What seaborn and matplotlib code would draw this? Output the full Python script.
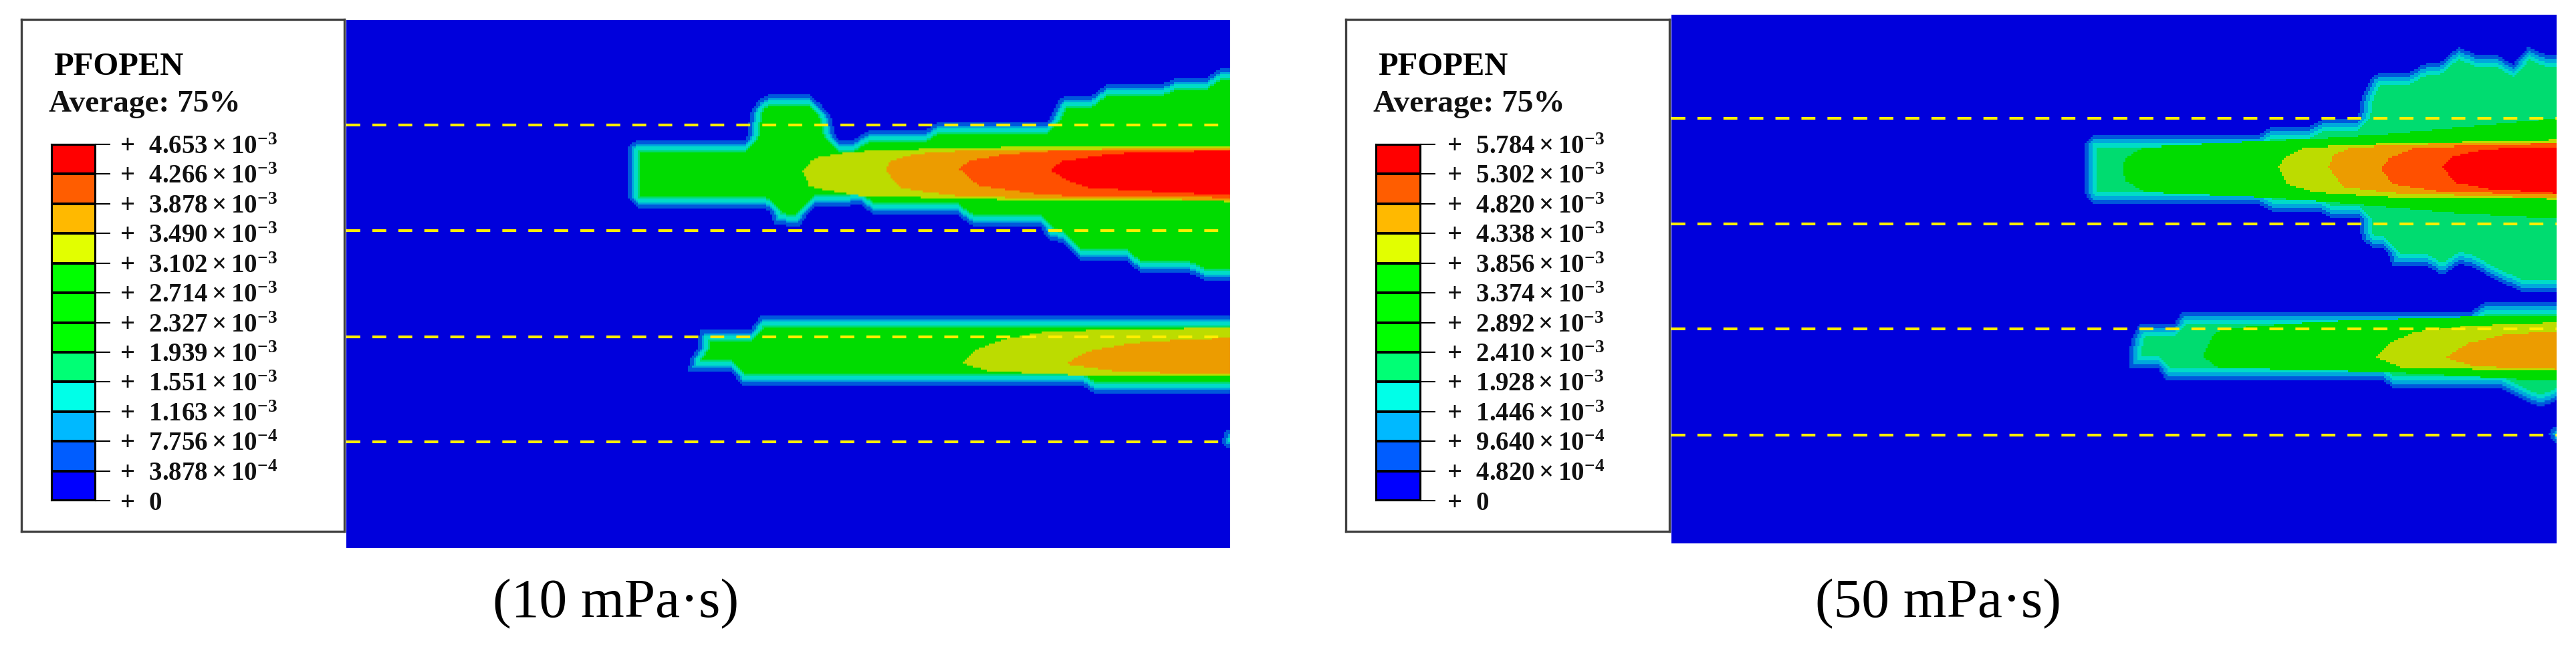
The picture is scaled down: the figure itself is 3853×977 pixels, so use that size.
import numpy as np
import matplotlib
matplotlib.use('Agg')
import matplotlib.pyplot as plt
from matplotlib.colors import ListedColormap
from matplotlib.path import Path
import seaborn as sns

W, H = 3853, 977
CELL = 3

# contour colours, index = band number (0 = below first legend level)
legend_colors = ['#0000ff', '#005dff', '#00b9ff', '#00ffe8', '#00ff75', '#00ff00',
                 '#00ff00', '#00ff00', '#e2ff00', '#ffb900', '#ff5d00', '#ff0000']
field_colors = ['#0000dc', '#0058dc', '#00a8dc', '#00dcc8', '#00dc70', '#00dc00',
                '#00dc00', '#00dc00', '#bcdc00', '#ec9c00', '#ff5000', '#ff0000']

labels_10 = ['4.653', '4.266', '3.878', '3.490', '3.102', '2.714', '2.327',
             '1.939', '1.551', '1.163', '7.756', '3.878']
labels_50 = ['5.784', '5.302', '4.820', '4.338', '3.856', '3.374', '2.892',
             '2.410', '1.928', '1.446', '9.640', '4.820']
exponents = [-3, -3, -3, -3, -3, -3, -3, -3, -3, -3, -4, -4]

a_upper_top = [(60, 430), (62, 340), (85, 315), (345, 320), (355, 215), (375, 170), (400, 150), (495, 150),
               (525, 190), (550, 240), (555, 290), (565, 320), (600, 320), (640, 280), (775, 280), (805, 250),
               (1065, 250), (1090, 170), (1110, 155), (1170, 155), (1205, 115), (1335, 115), (1375, 88),
               (1445, 88), (1480, 55), (1510, 55)]
a_upper_bot = [(60, 530), (85, 568), (385, 568), (400, 580), (415, 630), (475, 632), (490, 590), (505, 565),
               (620, 555), (650, 592), (850, 592), (885, 632), (1045, 632), (1065, 680), (1100, 695),
               (1140, 757), (1250, 757), (1285, 802), (1400, 802), (1440, 832), (1510, 832)]
a_lower_top = [(205, 1165), (210, 1120), (230, 1075), (232, 1008), (355, 1008), (380, 958), (1510, 958)]
a_lower_bot = [(205, 1165), (310, 1165), (335, 1217), (1150, 1217), (1180, 1247), (1510, 1247)]
a_spot_top = [(1480, 1420), (1490, 1380), (1510, 1378)]
a_spot_bot = [(1480, 1420), (1490, 1442), (1510, 1442)]

a_bands = [
    (8, [(480, 432), (500, 395), (520, 380), (590, 362), (680, 355), (790, 350), (990, 343), (1510, 343)],
     [(480, 432), (495, 485), (530, 500), (620, 522), (740, 527), (920, 535), (1280, 540), (1510, 543)]),
    (9, [(678, 428), (690, 395), (730, 375), (800, 360), (1110, 352), (1510, 350)],
     [(678, 428), (710, 490), (760, 505), (850, 522), (1000, 530), (1510, 537)]),
    (10, [(855, 425), (875, 395), (960, 370), (1100, 355), (1510, 352)],
     [(855, 425), (900, 485), (1060, 520), (1380, 525), (1510, 530)]),
    (11, [(1070, 427), (1100, 395), (1200, 372), (1300, 360), (1510, 358)],
     [(1070, 427), (1110, 465), (1160, 492), (1300, 505), (1510, 520)]),
    (8, [(860, 1132), (890, 1085), (960, 1045), (1050, 1020), (1200, 1010), (1510, 1003)],
     [(860, 1132), (920, 1160), (1030, 1170), (1200, 1180), (1510, 1180)]),
    (9, [(1105, 1135), (1160, 1090), (1260, 1060), (1400, 1045), (1510, 1040)],
     [(1105, 1135), (1240, 1165), (1510, 1172)]),
]

b_upper_top = [(75, 480), (80, 400), (105, 375), (600, 375), (645, 343), (760, 343), (800, 320), (905, 320),
               (915, 250), (945, 175), (970, 160), (1060, 160), (1100, 130), (1160, 120), (1210, 70),
               (1270, 100), (1330, 100), (1375, 130), (1420, 70), (1480, 98), (1515, 98)]
b_upper_bot = [(75, 570), (105, 610), (600, 610), (645, 635), (790, 635), (830, 660), (910, 660), (915, 730),
               (950, 760), (990, 765), (1010, 820), (1110, 820), (1160, 855), (1215, 815), (1260, 830),
               (1320, 870), (1400, 910), (1515, 910)]
b_lower_top = [(210, 1175), (215, 1080), (240, 1025), (345, 1025), (370, 985), (1245, 985), (1290, 947),
               (1515, 947)]
b_lower_bot = [(210, 1178), (300, 1178), (325, 1220), (980, 1220), (1020, 1248), (1340, 1248), (1455, 1310),
               (1515, 1285)]
b_spot_top = [(1485, 1400), (1495, 1378), (1515, 1378)]
b_spot_bot = [(1485, 1400), (1495, 1428), (1515, 1430)]

b_bands = [
    (5, [(190, 480), (200, 450), (250, 415), (600, 395), (800, 385), (1000, 370), (1515, 315)],
     [(190, 480), (200, 530), (260, 568), (600, 585), (800, 600), (1000, 620), (1200, 640), (1515, 660)]),
    (8, [(662, 482), (680, 450), (740, 415), (950, 405), (1515, 390)],
     [(662, 482), (690, 540), (770, 568), (1000, 585), (1515, 592)]),
    (9, [(815, 482), (830, 440), (880, 415), (1100, 405), (1515, 398)],
     [(815, 482), (860, 550), (1000, 570), (1515, 590)]),
    (10, [(975, 488), (1000, 450), (1080, 415), (1515, 402)],
     [(975, 488), (1010, 540), (1150, 565), (1515, 578)]),
    (11, [(1160, 480), (1190, 445), (1290, 420), (1515, 412)],
     [(1160, 480), (1200, 535), (1300, 557), (1515, 572)]),
    (5, [(432, 1135), (460, 1070), (490, 1040), (800, 1015), (1200, 1000), (1515, 993)],
     [(432, 1135), (480, 1175), (1000, 1190), (1400, 1215), (1515, 1215)]),
    (8, [(960, 1140), (1000, 1090), (1080, 1050), (1250, 1030), (1515, 1018)],
     [(960, 1140), (1040, 1175), (1515, 1185)]),
    (9, [(1170, 1140), (1240, 1090), (1350, 1060), (1515, 1048)],
     [(1170, 1140), (1260, 1170), (1515, 1180)]),
]

# band order from the outline inwards, one entry per cell of erosion
a_rim = [1, 1, 2, 3, 3, 4, 5]
b_rim = [1, 1, 2, 2, 3, 3, 4]

# fracture lines, image pixel rows
a_dash_rows = [187, 345, 503, 660]
b_dash_rows = [177, 334, 491, 649]

sns.set_theme(style='white')
plt.rcParams['font.family'] = ['Liberation Serif', 'DejaVu Serif']
plt.rcParams['mathtext.fontset'] = 'custom'
plt.rcParams['mathtext.rm'] = 'Liberation Serif:bold'
plt.rcParams['mathtext.it'] = 'Liberation Serif:bold'
plt.rcParams['mathtext.bf'] = 'Liberation Serif:bold'
plt.rcParams['mathtext.default'] = 'rm'
plt.rcParams['lines.scale_dashes'] = False


def px_axes(fig, x0, y0, x1, y1):
    return fig.add_axes([x0 / W, 1 - y1 / H, (x1 - x0) / W, (y1 - y0) / H])


def inside(top, bottom, crop, panel):
    # True for the cells whose centre falls in the outline
    sx, sy, ox, oy = crop
    pts = np.array(top + bottom[::-1], dtype=float)
    pts[:, 0] = (pts[:, 0] * sx + ox - panel[0]) / CELL
    pts[:, 1] = (pts[:, 1] * sy + oy - panel[1]) / CELL
    ny = (panel[3] - panel[1]) // CELL
    nx = (panel[2] - panel[0]) // CELL
    xx, yy = np.meshgrid(np.arange(nx) + 0.5, np.arange(ny) + 0.5)
    hit = Path(pts).contains_points(np.column_stack([xx.ravel(), yy.ravel()]))
    return hit.reshape(ny, nx)


def erode(mask):
    m = np.pad(mask, 1, mode='edge')
    return m[1:-1, 1:-1] & m[:-2, 1:-1] & m[2:, 1:-1] & m[1:-1, :-2] & m[1:-1, 2:]


def build_field(outlines, bands, crop, panel, rim):
    nx = (panel[2] - panel[0]) // CELL
    ny = (panel[3] - panel[1]) // CELL
    field = np.zeros((ny, nx), dtype=int)
    for top, bottom in outlines:
        mask = inside(top, bottom, crop, panel)
        for level in rim:
            field[mask] = level
            mask = erode(mask)
    for level, top, bottom in bands:
        field[inside(top, bottom, crop, panel)] = level
    return field


def draw_field(fig, field, panel, dash_rows):
    ax = px_axes(fig, *panel)
    sns.heatmap(field, ax=ax, cmap=ListedColormap(field_colors), vmin=-0.5, vmax=11.5,
                cbar=False, xticklabels=False, yticklabels=False)
    for row in dash_rows:
        y = (row - panel[1]) / CELL
        ax.plot([0, field.shape[1]], [y, y], color='#ffee00', lw=3,
                linestyle=(0, (15, 13)), dash_capstyle='butt')
    return ax


def draw_legend(fig, box, bar, values, tick_pad):
    frame = px_axes(fig, *box)
    frame.set_xticks([])
    frame.set_yticks([])
    for s in frame.spines.values():
        s.set_visible(True)
        s.set_linewidth(2.4)
        s.set_edgecolor('#404040')

    frame_w = box[2] - box[0]
    frame_h = box[3] - box[1]
    frame.text((bar[0] + 3 - box[0]) / frame_w, 1 - (112 - box[1]) / frame_h, 'PFOPEN',
               transform=frame.transAxes, fontsize=35, fontweight='bold', color='black')
    frame.text((bar[0] - 4 - box[0]) / frame_w, 1 - (167 - box[1]) / frame_h, 'Average: 75%',
               transform=frame.transAxes, fontsize=34, fontweight='bold', color='#111111')

    ax = px_axes(fig, *bar)
    rows = np.arange(11, -1, -1).reshape(-1, 1)
    sns.heatmap(rows, ax=ax, cmap=ListedColormap(legend_colors), vmin=-0.5, vmax=11.5, cbar=False,
                linewidths=1.5, linecolor='black', xticklabels=False)
    for s in ax.spines.values():
        s.set_visible(True)
        s.set_linewidth(1.5)
        s.set_edgecolor('black')
    ax.yaxis.tick_right()
    ax.set_yticks(np.arange(13))
    texts = [r'$+\ \ %s\times 10^{%d}$' % (v, e) for v, e in zip(values, exponents)]
    ax.set_yticklabels(texts + [r'$+\ \ 0$'], rotation=0, fontsize=28, color='#111111')
    ax.tick_params(axis='y', right=True, left=False, length=16, width=1.5, color='black', pad=tick_pad)
    return ax


fig = plt.figure(figsize=(W / 100, H / 100), dpi=100, facecolor='white')

crop_a = (980 / 1568, 640 / 1568, 900, 80)
crop_b = (773 / 1568, 680 / 1568, 3080, 40)
panel_a = (518, 30, 1840, 820)
panel_b = (2500, 22, 3824, 813)

field_a = build_field([(a_upper_top, a_upper_bot), (a_lower_top, a_lower_bot), (a_spot_top, a_spot_bot)],
                      a_bands, crop_a, panel_a, a_rim)
field_b = build_field([(b_upper_top, b_upper_bot), (b_lower_top, b_lower_bot), (b_spot_top, b_spot_bot)],
                      b_bands, crop_b, panel_b, b_rim)

draw_field(fig, field_a, panel_a, a_dash_rows)
draw_field(fig, field_b, panel_b, b_dash_rows)

draw_legend(fig, (32, 29, 515, 795), (77, 216, 143, 749), labels_10, 10)
draw_legend(fig, (2013, 29, 2497, 795), (2058, 216, 2125, 749), labels_50, 12)

fig.text(921 / W, 1 - 904 / H, '(10 mPa·s)', ha='center', va='center', fontsize=60, color='black')
fig.text(2899 / W, 1 - 904 / H, '(50 mPa·s)', ha='center', va='center', fontsize=60, color='black')

fig.savefig('out.png', dpi=100)
